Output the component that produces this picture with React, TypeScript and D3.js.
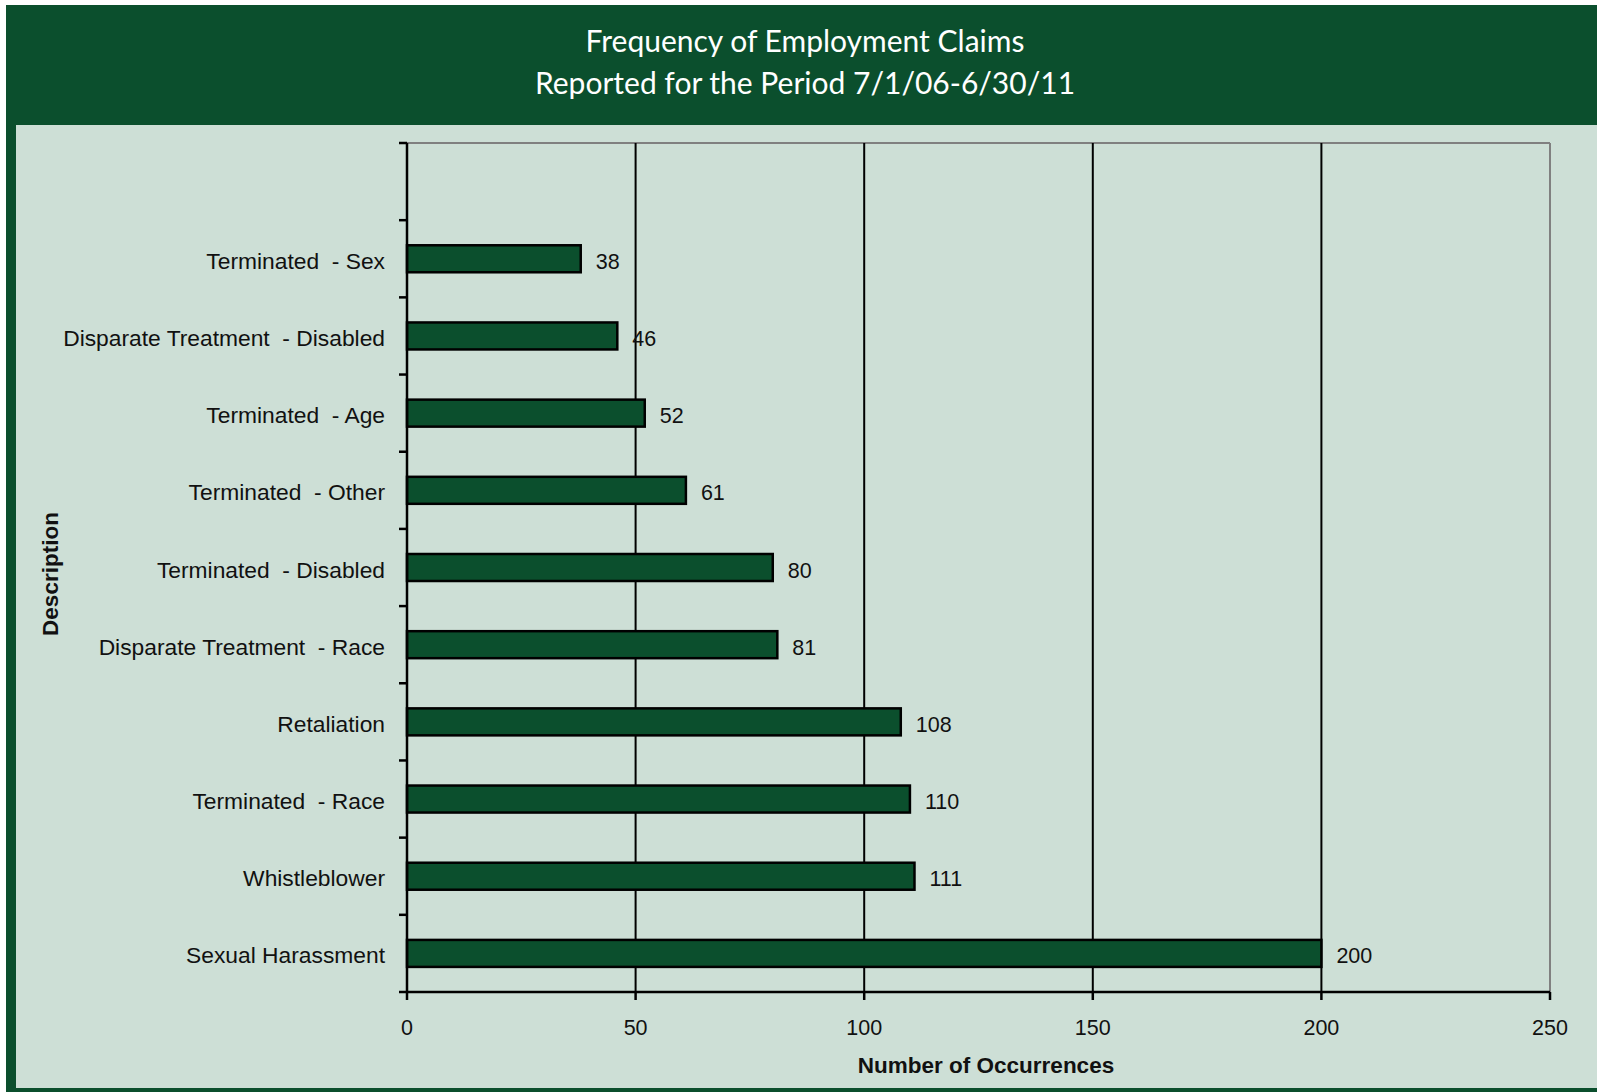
import React, { useEffect } from "react";
import * as d3 from "d3";

const categories = [
  "Terminated  - Sex",
  "Disparate Treatment  - Disabled",
  "Terminated  - Age",
  "Terminated  - Other",
  "Terminated  - Disabled",
  "Disparate Treatment  - Race",
  "Retaliation",
  "Terminated  - Race",
  "Whistleblower",
  "Sexual Harassment",
];
const values = [38, 46, 52, 61, 80, 81, 108, 110, 111, 200];
const xTicks = [0, 50, 100, 150, 200, 250];
const titleLines = ["Frequency of Employment Claims", "Reported for the Period 7/1/06-6/30/11"];

const W = 1597;
const H = 1092;
const GREEN = "#0b4f2d";
const PANEL = "#cddfd6";
const FONT = "'Liberation Sans', Arial, sans-serif";

export default function App() {
  useEffect(() => {
    document.body.style.margin = "0";
  }, []);

  const left = 407, right = 1550, top = 143, bottom = 992;
  const x = d3.scaleLinear().domain([0, 250]).range([left, right]);
  const slots = ["", ...categories];
  const y = d3.scaleBand().domain(slots).range([top, bottom]).paddingInner(0).paddingOuter(0);
  const bw = y.bandwidth();
  const barH = 27;

  return (
    <svg width={W} height={H} style={{ display: "block" }}>
      <rect x={0} y={0} width={W} height={H} fill="#ffffff" />
      <rect x={6} y={5} width={W - 6} height={H - 5} fill={GREEN} />
      <rect x={16} y={125} width={W - 16} height={1088 - 125} fill={PANEL} />
      {titleLines.map((t, i) => (
        <text key={i} x={805} y={52 + i * 42} textAnchor="middle" fill="#ffffff"
          fontFamily="Lato, sans-serif" fontSize={30}>{t}</text>
      ))}
      <line x1={left} x2={right} y1={top} y2={top} stroke="#808080" strokeWidth={2} />
      <line x1={right} x2={right} y1={top} y2={bottom} stroke="#808080" strokeWidth={2} />
      {xTicks.filter(t => t > 0 && t < 250).map(t => (
        <line key={t} x1={x(t)} x2={x(t)} y1={top} y2={bottom} stroke="#000" strokeWidth={2} />
      ))}
      {categories.map((c, i) => {
        const cy = (y(c) as number) + bw / 2;
        return (
          <g key={c}>
            <rect x={x(0)} y={cy - barH / 2} width={x(values[i]) - x(0)} height={barH}
              fill={GREEN} stroke="#000" strokeWidth={2.5} />
            <text x={x(values[i]) + 15} y={cy + 10} fontFamily={FONT} fontSize={21.5} fill="#111">{values[i]}</text>
            <text x={385} y={cy + 10} textAnchor="end" fontFamily={FONT} fontSize={22.8} fill="#111"
              style={{ whiteSpace: "pre" }}>{c}</text>
          </g>
        );
      })}
      <line x1={left} x2={left} y1={top} y2={bottom} stroke="#000" strokeWidth={2.5} />
      <line x1={left} x2={right} y1={bottom} y2={bottom} stroke="#000" strokeWidth={2.5} />
      {slots.concat(["end"]).map((s, i) => {
        const yy = top + i * bw;
        return <line key={"yt" + i} x1={left - 8} x2={left} y1={yy} y2={yy} stroke="#000" strokeWidth={2.5} />;
      })}
      {xTicks.map(t => (
        <g key={"xt" + t}>
          <line x1={x(t)} x2={x(t)} y1={bottom} y2={bottom + 8} stroke="#000" strokeWidth={2.5} />
          <text x={x(t)} y={1035} textAnchor="middle" fontFamily={FONT} fontSize={21.5} fill="#111">{t}</text>
        </g>
      ))}
      <text x={986} y={1073} textAnchor="middle" fontFamily={FONT} fontSize={22.5} fontWeight="bold" fill="#111">Number of Occurrences</text>
      <text transform={`translate(58,${574}) rotate(-90)`} textAnchor="middle" fontFamily={FONT} fontSize={22.5} fontWeight="bold" fill="#111">Description</text>
    </svg>
  );
}
